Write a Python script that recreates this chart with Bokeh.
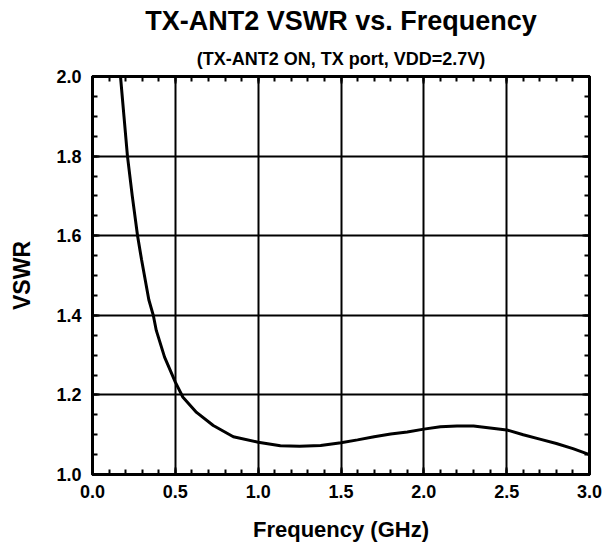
from bokeh.plotting import figure
from bokeh.models import (LinearAxis, FixedTicker, Title, Range1d, NumeralTickFormatter)
from bokeh.embed import file_html
from bokeh.resources import INLINE

freq_ghz = [0.169, 0.19, 0.211, 0.24, 0.272, 0.296, 0.34, 0.367, 0.385, 0.435, 0.5,
            0.546, 0.628, 0.729, 0.85, 1.0, 1.134, 1.25, 1.377, 1.5, 1.6,
            1.7, 1.8, 1.9, 2.0, 2.1, 2.2, 2.3, 2.4, 2.5, 2.6, 2.7, 2.8, 2.9, 3.0]
vswr = [2.0, 1.9, 1.8, 1.7, 1.6, 1.54, 1.439, 1.40, 1.362, 1.295, 1.232,
        1.194, 1.156, 1.123, 1.095, 1.081, 1.072, 1.071, 1.073, 1.08, 1.087,
        1.095, 1.102, 1.107, 1.114, 1.12, 1.122, 1.122, 1.117, 1.112, 1.10, 1.089, 1.078, 1.065, 1.05]

x_ticks = [0.0, 0.5, 1.0, 1.5, 2.0, 2.5, 3.0]
y_ticks = [1.0, 1.2, 1.4, 1.6, 1.8, 2.0]
x_minor = [round(i * 0.1, 2) for i in range(31)]
y_minor = [round(1.0 + i * 0.05, 3) for i in range(21)]

FONT = "Liberation Sans"

p = figure(width=604, height=546, output_backend="svg", toolbar_location=None,
           x_range=Range1d(0, 3), y_range=Range1d(1.0, 2.0),
           min_border_left=92, min_border_right=15, min_border_top=76, min_border_bottom=72,
           x_axis_label="Frequency (GHz)", y_axis_label="VSWR")

p.outline_line_color = "black"
p.outline_line_width = 3
p.outline_line_alpha = 1.0
p.background_fill_color = "white"
p.border_fill_color = "white"

def style_axis(ax, ticks, minor, labels=True):
    ax.ticker = FixedTicker(ticks=ticks, minor_ticks=minor)
    ax.axis_line_color = "black"
    ax.axis_line_width = 3
    ax.major_tick_in = 7
    ax.major_tick_out = 0
    ax.minor_tick_in = 5
    ax.minor_tick_out = 0
    ax.major_tick_line_color = "black"
    ax.major_tick_line_width = 2
    ax.minor_tick_line_color = "black"
    ax.minor_tick_line_width = 2
    ax.major_label_text_font = FONT
    ax.major_label_text_font_style = "bold"
    ax.major_label_text_font_size = "18px"
    ax.major_label_text_color = "black"
    ax.axis_label_text_font = FONT
    ax.axis_label_text_font_style = "bold"
    ax.axis_label_text_font_size = "22px"
    ax.axis_label_text_color = "black"
    ax.formatter = NumeralTickFormatter(format="0.0")
    if not labels:
        ax.major_label_text_font_size = "0px"
        ax.major_label_text_alpha = 0
        ax.major_label_standoff = 0

style_axis(p.xaxis[0], x_ticks, x_minor)
style_axis(p.yaxis[0], y_ticks, y_minor)
p.xaxis[0].major_label_standoff = 10
p.xaxis[0].axis_label_standoff = 16
p.yaxis[0].major_label_standoff = 11
p.yaxis[0].axis_label_standoff = 18
p.yaxis[0].axis_label_text_font_size = "23px"

top_ax = LinearAxis()
style_axis(top_ax, x_ticks, x_minor, labels=False)
right_ax = LinearAxis()
style_axis(right_ax, y_ticks, y_minor, labels=False)
p.add_layout(top_ax, "above")
p.add_layout(right_ax, "right")

sub = Title(text="(TX-ANT2 ON, TX port, VDD=2.7V)", align="center", text_font=FONT,
            text_font_size="18px", text_font_style="bold", text_color="black", standoff=16)
main = Title(text="TX-ANT2 VSWR vs. Frequency", align="center", text_font=FONT,
             text_font_size="27px", text_font_style="bold", text_color="black", standoff=6)
p.add_layout(sub, "above")
p.add_layout(main, "above")

p.xgrid.ticker = FixedTicker(ticks=x_ticks)
p.ygrid.ticker = FixedTicker(ticks=y_ticks)
for g in (p.xgrid[0], p.ygrid[0]):
    g.grid_line_color = "black"
    g.grid_line_width = 2
    g.grid_line_alpha = 1.0

p.line(freq_ghz, vswr, line_color="black", line_width=3)

open("out.html", "w").write(file_html(p, INLINE))
